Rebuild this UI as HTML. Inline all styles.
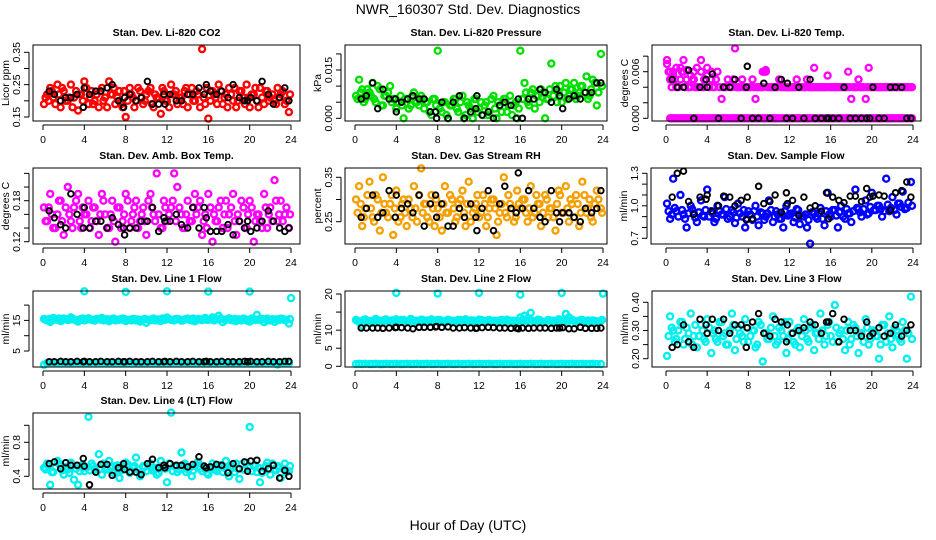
<!DOCTYPE html>
<html><head><meta charset="utf-8"><style>
html,body{margin:0;padding:0;background:#fff;}
svg{display:block;font-family:"Liberation Sans",sans-serif;}
</style></head><body>
<svg id="chart" width="936" height="540" viewBox="0 0 936 540">
<text x="468" y="14" text-anchor="middle" font-size="14">NWR_160307  Std. Dev. Diagnostics</text>
<text x="468" y="530" text-anchor="middle" font-size="14">Hour of Day (UTC)</text>
</svg>
<script>
const hoursColor=[0.1,0.4,0.7,1.0,1.4,1.7,2.0,2.4,2.7,3.0,3.4,3.7,4.0,4.4,4.7,5.0,5.4,5.7,6.0,6.4,6.7,7.0,7.4,7.7,8.0,8.4,8.7,9.0,9.4,9.7,10.0,10.4,10.7,11.0,11.4,11.7,12.0,12.4,12.7,13.0,13.4,13.7,14.0,14.4,14.7,15.0,15.4,15.7,16.0,16.4,16.7,17.0,17.4,17.7,18.0,18.4,18.7,19.0,19.4,19.7,20.0,20.4,20.7,21.0,21.4,21.7,22.0,22.4,22.7,23.0,23.4,23.8];
const hoursColor2=[0.25,0.55,0.85,1.2,1.55,1.85,2.2,2.55,2.85,3.2,3.55,3.85,4.2,4.55,4.85,5.2,5.55,5.85,6.2,6.55,6.85,7.2,7.55,7.85,8.2,8.55,8.85,9.2,9.55,9.85,10.2,10.55,10.85,11.2,11.55,11.85,12.2,12.55,12.85,13.2,13.55,13.85,14.2,14.55,14.85,15.2,15.55,15.85,16.2,16.55,16.85,17.2,17.55,17.85,18.2,18.55,18.85,19.2,19.55,19.85,20.2,20.55,20.85,21.2,21.55,21.85,22.2,22.55,22.85,23.2,23.55,23.9];
const hoursBlack=[0.6,1.1,1.7,2.2,2.7,3.3,3.9,4.0,4.5,5.1,5.6,6.2,6.7,7.3,7.8,7.9,8.4,9.0,9.5,10.1,10.6,11.2,11.7,11.8,12.3,12.9,13.4,14.0,14.5,15.1,15.6,15.8,16.2,16.8,17.3,17.9,18.4,19.0,19.5,19.8,20.1,20.7,21.2,21.8,22.3,22.9,23.4,23.8];
const hoursSpike=[4,8,12,16,20,24];
const xTicks=[0,4,8,12,16,20,24];

const co2Vals=[.19,.22,.24,.21,.25,.18,.23,.20,.25,.21,.17,.22,.26,.19,.23,.20,.18,.24,.21,.26,.22,.19,.23,.18,.15,.24,.21,.20,.23,.19,.22,.24,.18,.21,.16,.23,.20,.25,.22,.19,.21,.23,.18,.24,.20,.22,.36,.19,.145,.23,.21,.25,.19,.22,.24,.20,.18,.23,.21,.25,.18,.22,.20,.24,.19,.23,.21,.20,.24,.22,.19,.165];
const co2Vals2=[.21,.20,.23,.19,.22,.24,.20,.21,.18,.23,.22,.20,.24,.21,.19,.22,.23,.20,.18,.22,.24,.21,.19,.23,.20,.22,.18,.24,.21,.20,.23,.19,.22,.21,.24,.20,.18,.22,.23,.21,.19,.24,.22,.20,.23,.18,.21,.24,.20,.22,.19,.23,.21,.18,.22,.24,.20,.23,.19,.21,.22,.24,.18,.21,.23,.20,.22,.19,.21,.23,.20,.22];
const co2Black=[.23,.22,.20,.21,.21,.22,.18,.24,.22,.23,.23,.24,.25,.20,.18,.21,.22,.20,.21,.26,.19,.19,.22,.19,.22,.20,.20,.22,.22,.24,.22,.25,.23,.22,.23,.21,.25,.21,.20,.20,.21,.20,.26,.22,.19,.21,.24,.20];
const pressVals=[.007,.012,.009,.006,.008,.011,.005,.009,.004,.007,.010,.006,.003,.007,.000,.006,.004,.008,.005,.007,.003,.005,.001,.006,.021,.002,.005,.000,.004,.006,.002,.007,.001,.004,.000,.006,.003,.001,.005,.002,.007,.000,.004,.006,.002,.007,.004,.000,.021,.011,.005,.008,.003,.007,.009,.000,.006,.017,.010,.008,.005,.011,.007,.009,.006,.008,.010,.013,.007,.012,.004,.020];
const pressVals2=[.006,.008,.005,.009,.007,.006,.010,.004,.007,.008,.005,.006,.005,.004,.006,.003,.007,.005,.004,.006,.005,.002,.006,.004,.003,.005,.001,.004,.006,.003,.005,.000,.005,.003,.006,.002,.005,.004,.001,.006,.003,.005,.002,.006,.004,.001,.005,.003,.006,.008,.004,.009,.007,.005,.008,.006,.009,.007,.005,.010,.008,.006,.009,.011,.007,.010,.008,.006,.009,.011,.008,.010];
const pressBlack=[.006,.007,.011,.003,.009,.006,.006,.002,.005,.006,.007,.006,.006,.002,.002,.000,.005,.000,.005,.007,.000,.002,.003,.007,.001,.002,.000,.004,.005,.004,.000,.006,.000,.006,.006,.009,.008,.005,.009,.007,.003,.006,.007,.006,.008,.008,.011,.011];
const tempBand=[.007,.005,.006,.004,.0065,.0075,.005,.004,.006,.004,.0075,.004,.0065,.005,.004,.006,.0025,.004,.005,.004,.009,.004,.005,.004,.004,.005,.0025,.004,.004,.006,.004,.004,.004,.005,.004,.004,.004,.004,.005,.004,.004,.005,.004,.004,.004,.004,.004,.0055,.004,.004,.004,.004,.004,.006,.0025,.004,.005,.004,.0025,.0065,.004,.004,.004,.004,.004,.004,.004,.004,.004,.004,.004,.004];
const tempBand2=[.006,.004,.005,.004,.006,.004,.004,.005,.004,.004,.004,.005,.004,.004,.005,.004,.004,.004,.004,.005,.004,.004,.004,.004,.004,.004,.004,.004,.006,.004,.004,.004,.004,.004,.004,.004,.004,.004,.004,.004,.004,.004,.004,.004,.004,.004,.004,.004,.004,.004,.004,.004,.004,.004,.004,.004,.004,.004,.004,.004,.004,.004,.004,.004,.004,.004,.004,.004,.004,.004,.004,.004];
const tempZero=[null,0,0,0,0,0,0,0,0,0,0,0,0,0,0,0,0,0,0,0,0,0,0,0,0,0,0,0,0,0,0,0,0,0,0,0,0,0,0,0,0,0,0,0,0,0,0,0,0,0,0,0,0,0,0,0,0,0,0,0,0,0,0,0,0,0,0,0,0,0,0,0];
const tempZero2=[null,0,0,0,0,0,0,0,0,0,0,0,0,0,0,0,0,0,0,0,0,0,0,0,0,0,0,0,0,0,0,0,0,0,0,0,0,0,0,0,0,0,0,0,0,0,0,0,0,0,0,0,0,0,0,0,0,0,0,0,0,0,0,0,0,0,0,0,0,0,0,0];
const tempEarly=[.0075,.006,.0055,.0065,.005,.006,.0062,.0055,.005,.0065,.006,.005,.0055,.006,null,null,null,null,null,null,null,null,null,null,null,null,null,null,.006,.0062,null,null,null,null,null,null,null,null,null,null,null,null,null,.0065,null,null,null,null,null,null,null,null,null,null,null,null,null,null,null,null,null,null,null,null,null,null,null,null,null,null,null,null];
const tempBlack=[.005,.004,.004,.0062,0,.004,.005,.004,.0057,0,.004,.004,.005,0,.004,.0067,0,0,.0045,0,.004,.005,0,.0045,0,.004,0,.005,0,0,0,0,0,0,.004,0,0,0,0,0,.004,0,0,.004,.004,.004,0,0];
const ambVals=[.17,.15,.19,.14,.16,.18,.13,.20,.15,.17,.19,.14,.16,.18,.15,.17,.13,.19,.16,.14,.18,.12,.17,.15,.19,.14,.16,.18,.15,.17,.13,.19,.16,.22,.14,.18,.15,.17,.22,.20,.16,.14,.18,.15,.19,.17,.13,.16,.19,.12,.15,.17,.14,.18,.16,.19,.13,.15,.17,.14,.18,.12,.16,.15,.19,.14,.17,.21,.15,.18,.16,.14];
const ambVals2=[.15,.17,.16,.14,.18,.15,.17,.16,.14,.18,.15,.17,.16,.14,.17,.15,.16,.18,.14,.16,.15,.17,.14,.16,.18,.15,.17,.14,.16,.15,.18,.17,.15,.16,.14,.17,.16,.18,.15,.17,.14,.16,.15,.17,.16,.18,.15,.14,.17,.16,.15,.18,.16,.14,.17,.15,.16,.18,.14,.16,.17,.15,.16,.14,.17,.16,.15,.18,.16,.15,.17,.16];
const ambBlack=[.165,.155,.145,.14,.19,.16,.14,.17,.14,.15,.15,.14,.155,.145,.14,.13,.14,.14,.15,.15,.17,.135,.155,.15,.15,.16,.145,.14,.17,.14,.17,.155,.135,.135,.135,.145,.13,.15,.14,.15,.135,.14,.15,.165,.15,.14,.135,.14];
const rhVals=[.30,.33,.24,.28,.34,.26,.31,.23,.35,.27,.29,.22,.32,.26,.30,.24,.28,.33,.25,.37,.29,.26,.31,.24,.28,.23,.33,.27,.30,.25,.29,.32,.24,.34,.27,.29,.26,.31,.24,.28,.30,.22,.27,.35,.26,.29,.25,.32,.28,.30,.25,.33,.27,.29,.24,.31,.26,.28,.23,.32,.27,.33,.25,.29,.31,.24,.34,.27,.30,.25,.32,.28];
const rhVals2=[.27,.29,.26,.31,.28,.25,.30,.27,.29,.26,.31,.28,.25,.29,.27,.30,.26,.28,.31,.27,.29,.25,.28,.30,.26,.29,.27,.31,.28,.26,.30,.27,.29,.25,.28,.31,.27,.29,.26,.30,.28,.25,.29,.27,.31,.28,.26,.29,.30,.27,.28,.26,.31,.29,.27,.30,.28,.26,.29,.31,.27,.28,.30,.26,.29,.27,.31,.28,.26,.29,.30,.27];
const rhBlack=[.26,.28,.31,.26,.27,.32,.26,.31,.28,.29,.27,.31,.24,.29,.31,.26,.29,.24,.24,.28,.26,.29,.26,.23,.28,.32,.23,.29,.33,.28,.27,.36,.28,.32,.28,.26,.25,.32,.27,.25,.27,.27,.26,.25,.28,.27,.28,.32];
const flowVals=[1.02,.88,1.25,.95,1.10,.92,.80,1.0,.93,.85,1.05,.90,1.15,.95,.85,1.0,.92,1.08,.88,.96,.84,1.02,.90,.80,.95,.87,1.0,.82,.93,.90,1.05,.85,.95,.88,.80,1.0,.92,.85,.97,.83,.90,.80,.65,.93,.88,.98,.82,1.12,.90,.96,.80,1.0,.88,.93,.85,1.15,.97,.90,1.05,.93,1.12,.96,1.0,.90,1.25,.95,1.08,.92,1.02,1.13,.98,1.22];
const flowVals2=[.95,.92,.98,.90,.96,.88,.93,.97,.89,.94,.91,.96,.90,.93,.88,.95,.92,.97,.90,.94,.89,.93,.96,.88,.92,.95,.90,.94,.87,.93,.96,.90,.92,.88,.95,.91,.93,.89,.96,.90,.92,.87,.94,.90,.93,.88,.95,.92,.96,.91,.94,.90,.97,.93,.95,.98,.94,.97,.92,.99,.96,1.0,.97,.95,1.01,.98,.96,1.02,.99,.97,1.03,1.0];
const flowBlack=[1.08,1.3,1.32,1.04,.92,1.08,1.06,1.1,.95,1.0,1.09,1.08,1.0,1.05,.87,1.08,.88,1.18,1.02,1.04,1.1,.94,1.12,1.02,1.05,.91,1.08,.98,1.0,.95,1.12,.88,1.08,1.05,1.03,1.09,1.09,1.04,1.16,1.08,1.09,1.1,1.09,.96,1.12,1.14,1.22,1.08];
const l1Vals=[15.5,15.0,14.5,15.8,15.2,14.8,15.6,15.1,16.0,15.3,14.6,15.5,15.0,15.7,15.2,14.9,15.4,15.8,15.1,14.7,15.5,15.0,15.3,15.6,14.8,15.2,15.5,15.0,14.6,15.3,14.2,15.1,15.6,15.0,14.8,15.4,15.9,15.2,15.0,15.5,14.9,15.3,15.6,15.0,14.7,15.4,15.1,15.8,15.2,16.0,15.5,16.5,14.4,15.2,15.7,15.0,14.8,15.3,15.6,15.0,14.6,15.4,16.8,15.2,14.4,15.6,15.0,14.5,15.3,15.6,15.1,14.0];
const l1Vals2=[15.2,15.4,15.0,15.3,15.6,15.1,15.4,15.2,15.5,15.0,15.3,15.6,15.2,15.4,15.1,15.5,15.3,15.0,15.4,15.2,15.6,15.1,15.3,15.5,15.2,15.0,15.4,15.3,15.1,15.5,15.2,15.4,15.0,15.3,15.6,15.2,15.4,15.1,15.5,15.3,15.0,15.4,15.2,15.6,15.1,15.3,15.5,15.2,15.4,15.0,15.3,15.6,15.2,15.4,15.1,15.5,15.3,15.0,15.4,15.2,15.6,15.1,15.3,15.5,15.2,15.0,15.4,15.3,15.1,15.5,15.2,15.4];
const l1Low=[0.5,1.0,1.0,1.0,1.0,1.0,1.0,1.0,1.0,1.0,1.0,1.0,1.0,1.0,1.0,1.0,1.0,1.0,1.0,1.0,1.0,1.0,1.0,1.0,1.0,1.0,1.0,1.0,1.0,1.0,1.0,1.0,1.0,1.0,1.0,1.0,1.0,1.0,1.0,1.0,1.0,1.0,1.0,1.0,1.0,1.0,1.0,1.0,1.0,1.0,1.0,1.0,1.0,1.0,1.0,1.0,1.0,1.0,1.0,1.0,1.0,1.0,1.0,1.0,1.0,1.0,1.0,1.0,0.6,1.0,1.0,1.0];
const l1Spike=[24.5,24.3,24.5,24.4,24.4,22.3];
const l1Black=[1.5,1.5,1.6,1.5,1.5,1.6,1.5,1.6,1.5,1.5,1.6,1.5,1.5,1.6,1.5,1.5,1.6,1.5,1.5,1.5,1.6,1.5,1.5,1.6,1.5,1.6,1.5,1.5,1.6,1.5,1.5,1.6,1.5,1.5,1.6,1.5,1.5,1.5,1.6,1.5,1.6,1.5,1.5,1.6,1.5,1.5,1.6,1.6];
const l2Vals=[12.8,12.2,11.2,13.0,12.5,12.0,13.1,12.6,12.3,13.0,12.4,12.7,13.0,12.2,12.8,12.5,13.1,12.3,12.6,12.9,12.2,12.7,13.0,12.4,12.8,12.5,12.1,12.9,12.6,12.3,12.8,12.5,13.0,12.4,12.7,12.2,12.9,12.6,12.3,12.8,12.5,12.1,12.7,12.4,12.9,12.2,12.6,12.3,13.5,14.0,13.2,14.8,12.4,12.9,12.5,12.2,12.8,12.6,12.3,13.0,12.4,14.5,13.5,12.9,12.3,12.6,12.8,12.2,12.5,12.7,12.4,12.6];
const l2Vals2=[12.6,12.4,12.8,12.5,12.3,12.7,12.6,12.4,12.8,12.5,12.7,12.3,12.6,12.8,12.4,12.5,12.7,12.6,12.3,12.8,12.5,12.4,12.7,12.6,12.8,12.3,12.5,12.7,12.4,12.6,12.8,12.5,12.3,12.7,12.6,12.4,12.8,12.5,12.7,12.3,12.6,12.4,12.8,12.5,12.7,12.6,12.3,12.4,12.8,12.5,12.7,12.6,12.4,12.8,12.3,12.5,12.7,12.6,12.4,12.8,12.5,12.3,12.7,12.6,12.4,12.8,12.5,12.7,12.3,12.6,12.4,12.8];
const l2Low=[0.6,0.7,0.6,0.7,0.6,0.6,0.7,0.6,0.6,0.7,0.6,0.6,0.7,0.6,0.6,0.7,0.6,0.6,0.7,0.6,0.6,0.7,0.6,0.6,0.7,0.6,0.6,0.7,0.6,0.6,0.7,0.6,0.6,0.7,0.6,0.6,0.7,0.6,0.6,0.7,0.6,0.6,0.7,0.6,0.6,0.7,0.6,0.6,0.7,0.6,0.6,0.7,0.6,0.6,0.7,0.6,0.6,0.7,0.6,0.6,0.7,0.6,0.6,0.7,0.6,0.6,0.7,0.6,0.6,0.7,0.6,0.6];
const l2Spike=[20.3,20.1,20.3,19.8,20.3,20.1];
const l2Black=[10.6,10.6,10.6,10.6,10.5,10.6,10.7,10.8,10.7,10.6,10.4,10.8,10.8,10.8,10.9,11.0,10.8,10.9,10.6,10.6,10.7,10.6,10.5,10.6,10.7,10.8,10.7,10.6,10.6,10.5,10.6,10.4,10.6,10.5,10.6,10.6,10.6,10.5,10.6,10.6,10.7,10.4,10.4,10.8,10.5,10.5,10.5,10.6];
const l3Vals=[.21,.35,.30,.27,.33,.25,.31,.36,.28,.24,.32,.27,.34,.22,.30,.26,.33,.29,.25,.36,.23,.31,.28,.34,.26,.30,.24,.33,.19,.29,.27,.35,.25,.31,.28,.22,.33,.26,.30,.24,.34,.27,.31,.23,.29,.36,.25,.32,.28,.39,.26,.30,.23,.33,.27,.31,.22,.29,.34,.25,.30,.28,.20,.32,.26,.35,.24,.30,.27,.33,.20,.42];
const l3Vals2=[.28,.31,.26,.30,.33,.27,.29,.25,.32,.28,.30,.26,.31,.29,.27,.33,.28,.25,.30,.32,.27,.29,.26,.31,.28,.30,.25,.32,.29,.27,.31,.28,.26,.30,.33,.27,.29,.25,.31,.28,.30,.26,.32,.29,.27,.30,.28,.33,.26,.31,.29,.27,.30,.25,.32,.28,.29,.26,.31,.27,.30,.28,.25,.32,.29,.27,.31,.28,.26,.30,.29,.27];
const l3Black=[.24,.25,.32,.26,.24,.34,.32,.29,.34,.30,.34,.29,.32,.32,.24,.31,.33,.36,.29,.28,.34,.33,.26,.32,.29,.30,.31,.33,.32,.29,.33,.33,.36,.26,.34,.30,.30,.28,.33,.28,.29,.31,.28,.29,.32,.28,.30,.32];
const l4Vals=[.50,.55,.30,.45,.58,.52,.42,.48,.56,.36,.30,.52,.46,1.1,.55,.48,.66,.42,.50,.58,.45,.52,.38,.48,.56,.44,.50,.62,.40,.52,.46,.55,.48,.42,.58,.50,.33,1.15,.52,.45,.68,.55,.48,.40,.52,.57,.46,.50,.42,.55,.48,.52,.45,.58,.40,.50,.55,.37,.48,.56,.98,.52,.45,.33,.50,.56,.42,.48,.52,.38,.55,.46];
const l4Vals2=[.48,.52,.45,.50,.55,.47,.51,.44,.53,.49,.46,.54,.50,.47,.52,.45,.49,.55,.48,.51,.44,.53,.47,.50,.54,.46,.52,.48,.45,.51,.53,.47,.50,.44,.52,.49,.55,.46,.51,.48,.53,.45,.50,.47,.54,.49,.52,.44,.51,.48,.46,.53,.50,.47,.52,.45,.49,.54,.48,.51,.46,.53,.50,.44,.52,.48,.55,.47,.50,.49,.45,.52];
const l4Black=[.55,.57,.49,.56,.53,.53,.61,.52,.30,.45,.54,.54,.41,.50,.55,.48,.45,.45,.42,.55,.60,.50,.53,.50,.55,.53,.53,.51,.54,.63,.52,.50,.51,.54,.53,.44,.55,.49,.57,.46,.58,.59,.46,.49,.53,.38,.47,.40];

const NS="http://www.w3.org/2000/svg";
const svg=document.getElementById('chart');
function mk(tag,attrs,parent){const e=document.createElementNS(NS,tag);for(const k in attrs)e.setAttribute(k,attrs[k]);(parent||svg).appendChild(e);return e;}

const panels=[
 {name:'co2',title:'Stan. Dev. Li-820 CO2',ylab:'Licor ppm',box:[33,45,300,121],x:[43,291],y:[.15,117,.35,52.3],ticks:[.15,.20,.25,.30,.35],labels:['0.15','','0.25','','0.35'],
  series:[[hoursColor,co2Vals,'#ff0000'],[hoursColor2,co2Vals2,'#ff0000'],[hoursBlack,co2Black,'#000']]},
 {name:'pressure',title:'Stan. Dev. Li-820 Pressure',ylab:'kPa',box:[345,45,607,121],x:[355,603],y:[0,118.3,.015,70],ticks:[0,.005,.01,.015,.02],labels:['0.000','','','0.015',''],
  series:[[hoursColor,pressVals,'#00e000'],[hoursColor2,pressVals2,'#00e000'],[hoursBlack,pressBlack,'#000']]},
 {name:'li820-temp',title:'Stan. Dev. Li-820 Temp.',ylab:'degrees C',box:[652,45,921,121],x:[666,913],y:[0,118.3,.006,71.7],ticks:[0,.002,.004,.006,.008],labels:['0.000','','','0.006',''],
  series:[[hoursColor,tempBand,'#ff00ff'],[hoursColor2,tempBand2,'#ff00ff'],[hoursColor,tempZero,'#ff00ff'],[hoursColor2,tempZero2,'#ff00ff'],[hoursColor,tempEarly,'#ff00ff'],[hoursBlack,tempBlack,'#000']]},
 {name:'amb-box-temp',title:'Stan. Dev. Amb. Box Temp.',ylab:'degrees C',box:[33,168,300,244],x:[43,291],y:[.12,241.7,.18,200.7],ticks:[.12,.14,.16,.18,.20,.22],labels:['0.12','','','0.18','',''],
  series:[[hoursColor,ambVals,'#ff00ff'],[hoursColor2,ambVals2,'#ff00ff'],[hoursBlack,ambBlack,'#000']]},
 {name:'gas-stream-rh',title:'Stan. Dev. Gas Stream RH',ylab:'percent',box:[345,168,607,244],x:[355,603],y:[.25,221.7,.35,177.3],ticks:[.25,.30,.35],labels:['0.25','','0.35'],
  series:[[hoursColor,rhVals,'#f5a000'],[hoursColor2,rhVals2,'#f5a000'],[hoursBlack,rhBlack,'#000']]},
 {name:'sample-flow',title:'Stan. Dev. Sample Flow',ylab:'ml/min',box:[651,168,921,244],x:[666,913],y:[.7,238.3,1.3,173.3],ticks:[.7,.8,.9,1.0,1.1,1.2,1.3],labels:['0.7','','','1.0','','','1.3'],
  series:[[hoursColor,flowVals,'#0000ff'],[hoursColor2,flowVals2,'#0000ff'],[hoursBlack,flowBlack,'#000']]},
 {name:'line1-flow',title:'Stan. Dev. Line 1 Flow',ylab:'ml/min',box:[33,291,300,367],x:[43,291],y:[5,351,15,320.4],ticks:[5,10,15,20],labels:['5','','15',''],
  series:[[hoursColor,l1Vals,'#00f0f0'],[hoursColor2,l1Vals2,'#00f0f0'],[hoursColor,l1Low,'#00f0f0'],[hoursSpike,l1Spike,'#00f0f0'],[hoursBlack,l1Black,'#000']]},
 {name:'line2-flow',title:'Stan. Dev. Line 2 Flow',ylab:'ml/min',box:[345,291,607,367],x:[355,603],y:[0,366.3,20,294],ticks:[0,5,10,15,20],labels:['0','5','10','','20'],
  series:[[hoursColor,l2Vals,'#00f0f0'],[hoursColor2,l2Vals2,'#00f0f0'],[hoursColor,l2Low,'#00f0f0'],[hoursSpike,l2Spike,'#00f0f0'],[hoursBlack,l2Black,'#000']]},
 {name:'line3-flow',title:'Stan. Dev. Line 3 Flow',ylab:'ml/min',box:[652,291,921,367],x:[666,913],y:[.2,358.7,.4,302.3],ticks:[.2,.25,.3,.35,.4],labels:['0.20','','0.30','','0.40'],
  series:[[hoursColor,l3Vals,'#00f0f0'],[hoursColor2,l3Vals2,'#00f0f0'],[hoursBlack,l3Black,'#000']]},
 {name:'line4-flow',title:'Stan. Dev. Line 4 (LT) Flow',ylab:'ml/min',box:[33,413,300,489],x:[43,291],y:[.4,476.3,.8,442.3],ticks:[.4,.6,.8,1.0],labels:['0.4','','0.8',''],
  series:[[hoursColor,l4Vals,'#00f0f0'],[hoursColor2,l4Vals2,'#00f0f0'],[hoursBlack,l4Black,'#000']]}
];

panels.forEach(p=>{
  const g=mk('g',{});
  
  
  const [L,T,R,B]=p.box;
  const xs=h=>p.x[0]+(p.x[1]-p.x[0])*h/24;
  const ys=v=>p.y[1]+(v-p.y[0])*(p.y[3]-p.y[1])/(p.y[2]-p.y[0]);
  const t=mk('text',{x:(L+R)/2,y:T-9,'text-anchor':'middle','font-size':10.5,'font-weight':'bold'},g);
  t.textContent=p.title;
  
  
  p.series.forEach(s=>{
    const [hs,vs,col]=s;
    const n=Math.min(hs.length,vs.length);
    const black=col==='#000';
    for(let i=0;i<n;i++){
      if(vs[i]===null||vs[i]===undefined)continue;
      const c=mk('circle',{cx:xs(hs[i]).toFixed(1),cy:ys(vs[i]).toFixed(1),r:black?2.8:3,fill:'none',stroke:col,'stroke-width':black?1.9:2.4},g);
      
      
    }
  });
  const bx=mk('rect',{x:L,y:T,width:R-L,height:B-T,fill:'none',stroke:'#000','stroke-width':1},g);
  
  
  mk('line',{x1:xs(0),x2:xs(24),y1:B+4,y2:B+4,stroke:'#000'},g);
  xTicks.forEach(h=>{
    mk('line',{x1:xs(h),x2:xs(h),y1:B+4,y2:B+9,stroke:'#000'},g);
    const tl=mk('text',{x:xs(h),y:B+22,'text-anchor':'middle','font-size':10.5},g);
    tl.textContent=h;
    
    
  });
  const ya=ys(p.ticks[0]),yb=ys(p.ticks[p.ticks.length-1]);
  mk('line',{x1:L-4,x2:L-4,y1:ya,y2:yb,stroke:'#000'},g);
  p.ticks.forEach((v,i)=>{
    const yy=ys(v);
    mk('line',{x1:L-9,x2:L-4,y1:yy,y2:yy,stroke:'#000'},g);
    if(p.labels[i]){
      const tl=mk('text',{x:0,y:0,'text-anchor':'middle','font-size':10.5,transform:`translate(${L-13},${yy}) rotate(-90)`},g);
      tl.textContent=p.labels[i];
      
      
    }
  });
  const yl=mk('text',{x:0,y:0,'text-anchor':'middle','font-size':10.5,transform:`translate(${L-24},${(T+B)/2}) rotate(-90)`},g);
  yl.textContent=p.ylab;
  
  
});
</script>
</body></html>
